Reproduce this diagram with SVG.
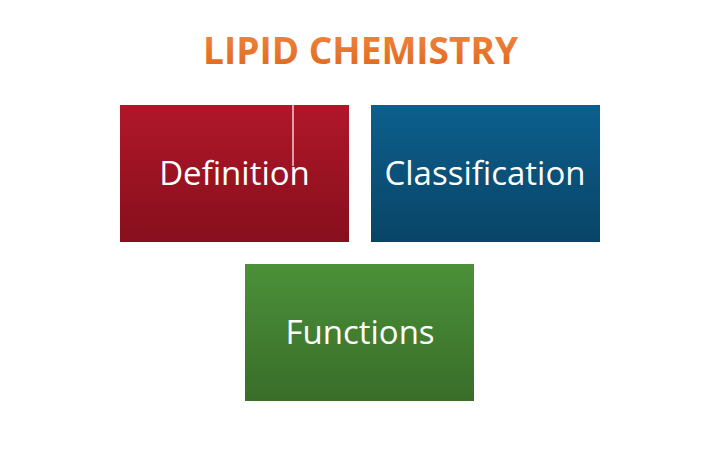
<svg xmlns="http://www.w3.org/2000/svg" width="720" height="450" viewBox="0 0 720 450">
<defs>
<linearGradient id="gTitle" x1="0" y1="0" x2="0" y2="1"><stop offset="0" stop-color="#f28a45"/><stop offset="1" stop-color="#de6418"/></linearGradient>
<linearGradient id="gRed" x1="0" y1="0" x2="0" y2="1"><stop offset="0" stop-color="#b01729"/><stop offset="1" stop-color="#870f1d"/></linearGradient>
<linearGradient id="gBlue" x1="0" y1="0" x2="0" y2="1"><stop offset="0" stop-color="#0c5f8d"/><stop offset="1" stop-color="#094467"/></linearGradient>
<linearGradient id="gGreen" x1="0" y1="0" x2="0" y2="1"><stop offset="0" stop-color="#4b9139"/><stop offset="1" stop-color="#396d29"/></linearGradient>
</defs>
<style>
.lbl{font-family:"Open Sans","Noto Sans","DejaVu Sans",sans-serif;font-size:33px;fill:#ffffff;text-anchor:middle}
.title{font-family:"Open Sans","Noto Sans","DejaVu Sans",sans-serif;font-weight:bold;font-size:37px;fill:url(#gTitle);text-anchor:middle}
</style>
<rect width="720" height="450" fill="#ffffff"/>
<text class="title" x="360.5" y="64" textLength="315" lengthAdjust="spacingAndGlyphs">LIPID CHEMISTRY</text>
<g id="definition">
<rect x="120" y="105" width="229" height="137" fill="url(#gRed)"/>
<line x1="293" y1="105" x2="293" y2="166" stroke="#ffffff" stroke-width="1.2"/>
<text class="lbl" x="234.5" y="185">Definition</text>
</g>
<g id="classification">
<rect x="371" y="105" width="229" height="137" fill="url(#gBlue)"/>
<text class="lbl" x="485" y="185">Classification</text>
</g>
<g id="functions">
<rect x="245" y="264" width="229" height="137" fill="url(#gGreen)"/>
<text class="lbl" x="360" y="344">Functions</text>
</g>
<g id="connectors"></g>
</svg>
